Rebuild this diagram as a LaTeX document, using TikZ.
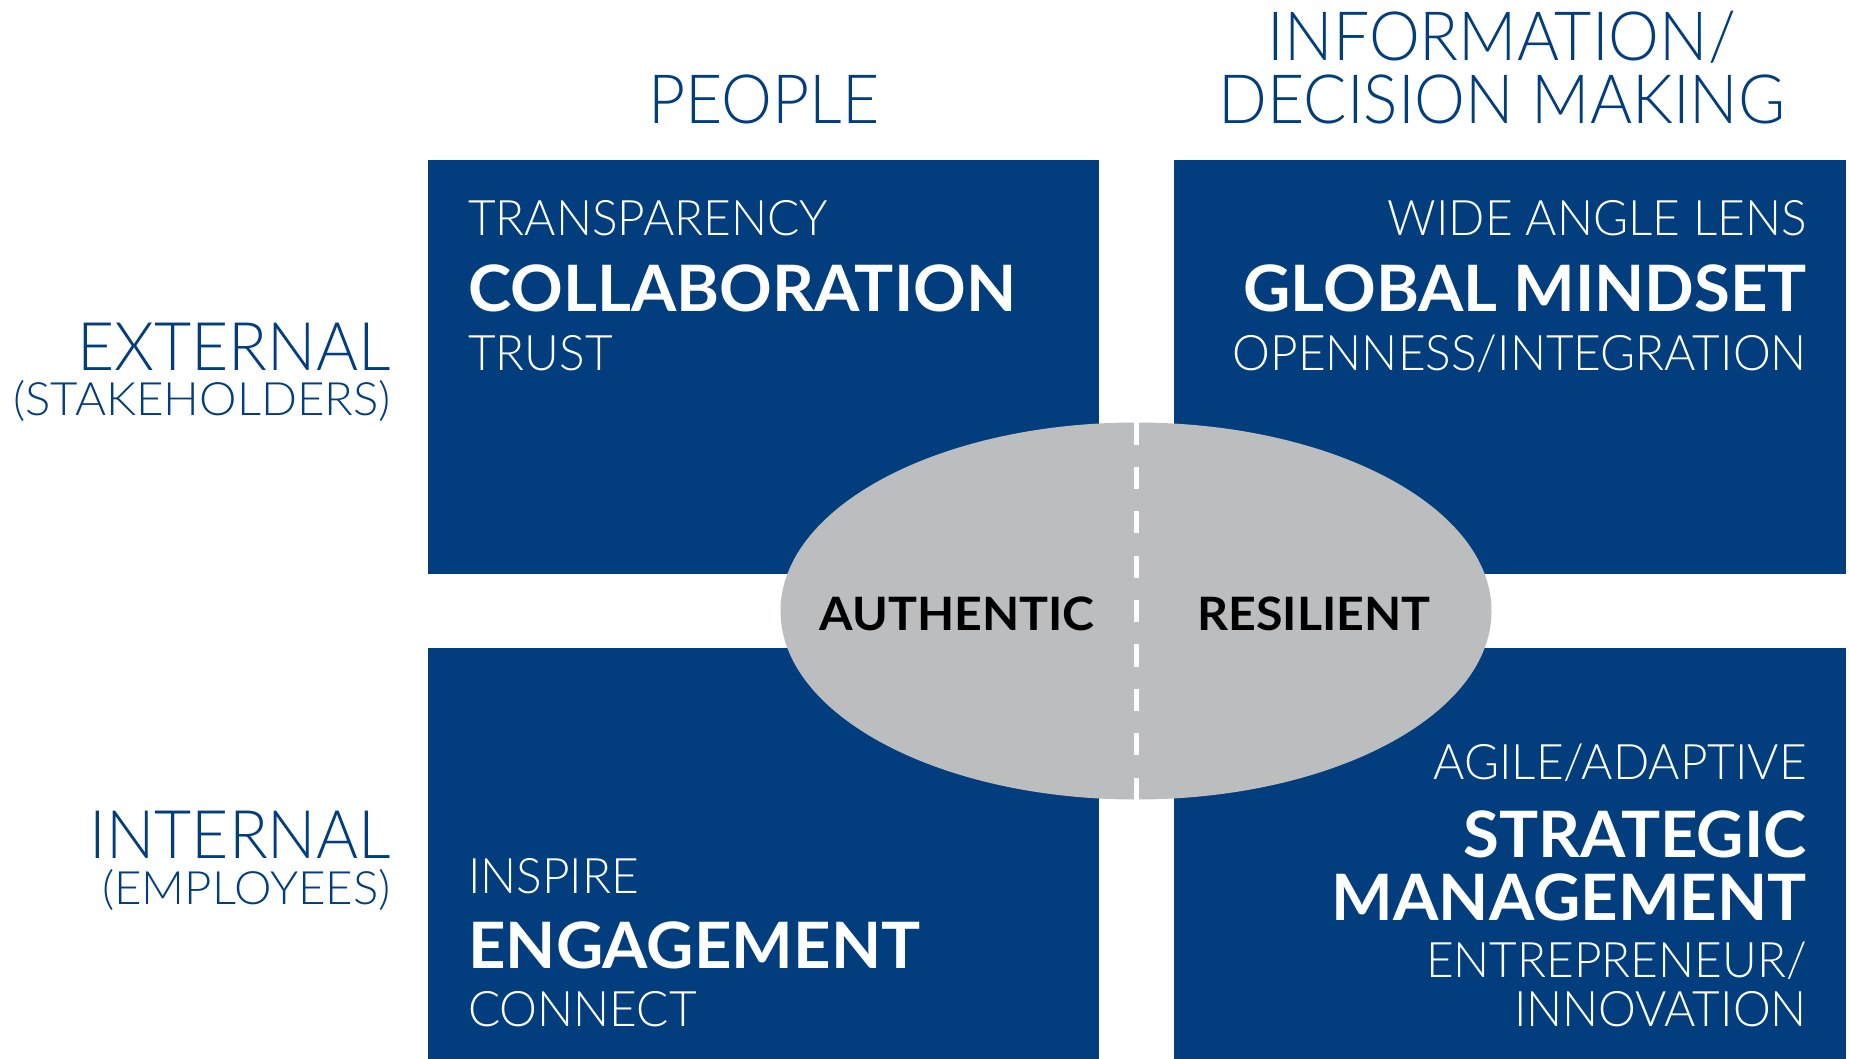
\documentclass[tikz,border=0pt]{standalone}
\usepackage{fontspec}
\setmainfont{Lato}
\newfontfamily\headfont[FakeStretch=0.945]{Lato Light}
\newfontfamily\sidefont[FakeStretch=0.957]{Lato Light}
\newfontfamily\subfont[FakeStretch=1.03]{Lato Light}
\newfontfamily\smallfont[FakeStretch=0.975]{Lato Light}
\newfontfamily\bigfont[FakeStretch=1.02]{Lato Bold}
\newfontfamily\corefont[FakeStretch=1.05]{Lato Bold}
\usetikzlibrary{shapes.geometric}
\definecolor{qblue}{RGB}{2,62,125}
\definecolor{egrey}{RGB}{187,189,191}
\newcommand{\fsz}[1]{\fontsize{#1}{#1}\selectfont}
\tikzset{
  quad/.style={fill=qblue, draw=none, inner sep=0pt, anchor=north west},
  head/.style={text=qblue, font=\headfont\fsz{68}, inner sep=0pt, anchor=base},
  side/.style={text=qblue, font=\sidefont\fsz{67}, inner sep=0pt, anchor=base east},
  sidesub/.style={text=qblue, font=\subfont\fsz{46}, inner sep=0pt, anchor=base east},
  small/.style={text=white, font=\smallfont\fsz{49}, inner sep=0pt},
  big/.style={text=white, font=\bigfont\fsz{64}, inner sep=0pt},
  core/.style={text=black, font=\corefont\fsz{46}, inner sep=0pt, anchor=base},
}
\begin{document}
\begin{tikzpicture}[x=1pt, y=-1pt]
  \useasboundingbox (0,0) rectangle (1849,1059);
  % quadrants
  \node[quad, minimum width=671pt, minimum height=414pt] (tl) at (428,160) {};
  \node[quad, minimum width=672pt, minimum height=414pt] (tr) at (1174,160) {};
  \node[quad, minimum width=671pt, minimum height=411pt] (bl) at (428,648) {};
  \node[quad, minimum width=672pt, minimum height=411pt] (br) at (1174,648) {};
  % central ellipse with dashed divider
  \node[ellipse, fill=egrey, inner sep=0pt, minimum width=711pt, minimum height=377pt] (core) at (1136,611) {};
  \draw[white, line width=5pt, dash pattern=on 22.2pt off 22.2pt] (core.north) -- (core.south);
  \node[core] (auth) at (957,630) {AUTHENTIC};
  \node[core] (resil) at (1314,630) {RESILIENT};
  % column headings
  \node[head] (people) at (764,124) {PEOPLE};
  \node[head] (info1) at (1502,61) {INFORMATION/};
  \node[head] (info2) at (1502,124) {DECISION MAKING};
  % row headings
  \node[side] (ext) at (391,370) {EXTERNAL};
  \node[sidesub] (stake) at (391,415) {(STAKEHOLDERS)};
  \node[side] (int) at (391,858) {INTERNAL};
  \node[sidesub] (emp) at (391,904) {(EMPLOYEES)};
  % top-left quadrant
  \node[small, anchor=base west] (transp) at (468,236) {TRANSPARENCY};
  \node[big, anchor=base west] (collab) at (468,312) {COLLABORATION};
  \node[small, anchor=base west] (trust) at (468,370) {TRUST};
  % top-right quadrant
  \node[small, anchor=base east] (wide) at (1807,236) {WIDE ANGLE LENS};
  \node[big, anchor=base east] (global) at (1807,312) {GLOBAL MINDSET};
  \node[small, anchor=base east] (open) at (1807,370) {OPENNESS/INTEGRATION};
  % bottom-left quadrant
  \node[small, anchor=base west] (insp) at (468,893) {INSPIRE};
  \node[big, anchor=base west] (engage) at (468,968) {ENGAGEMENT};
  \node[small, anchor=base west] (conn) at (468,1026) {CONNECT};
  % bottom-right quadrant
  \node[small, anchor=base east] (agile) at (1807,779) {AGILE/ADAPTIVE};
  \node[big, anchor=base east] (strat) at (1807,857) {STRATEGIC};
  \node[big, anchor=base east] (mgmt) at (1807,920) {MANAGEMENT};
  \node[small, anchor=base east] (entre) at (1807,977) {ENTREPRENEUR/};
  \node[small, anchor=base east] (innov) at (1807,1026) {INNOVATION};
\end{tikzpicture}
\end{document}
